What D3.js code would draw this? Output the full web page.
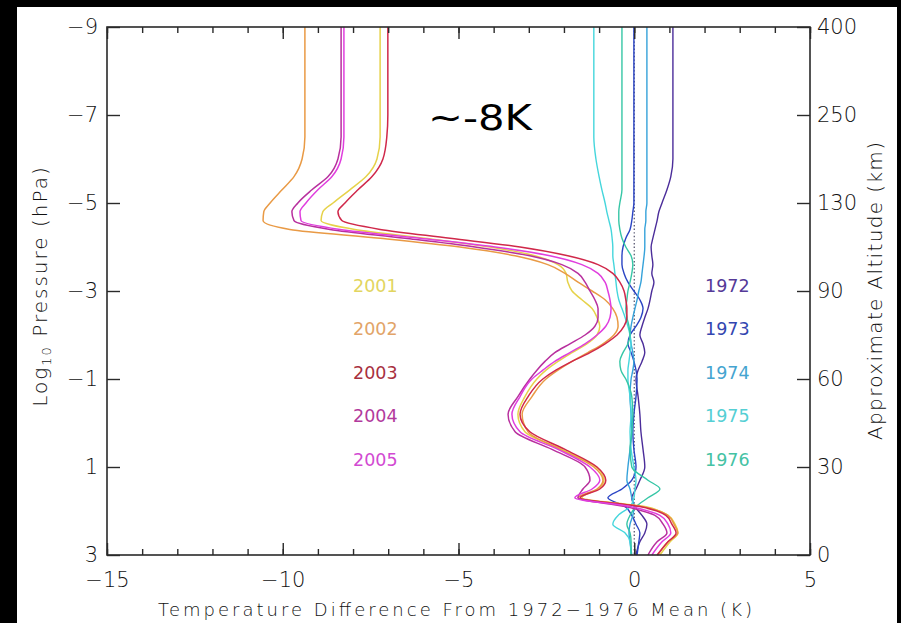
<!DOCTYPE html>
<html>
<head>
<meta charset="utf-8">
<script src="https://cdn.jsdelivr.net/npm/d3@7"></script>
<style>
  html, body { margin: 0; padding: 0; background: #000; }
  svg { display: block; }
  text { font-family: "DejaVu Sans", sans-serif; }
</style>
</head>
<body>
<svg id="chart" width="901" height="623"></svg>
<script>
// Log10 pressure (hPa) levels shared by every profile, top of atmosphere first
const pressureLevels = [-9, -8, -7, -6.5, -6, -5.6, -5.3, -5.0, -4.8, -4.6, -4.4, -4.2, -4.0, -3.8,
  -3.6, -3.4, -3.2, -3.0, -2.8, -2.6, -2.4, -2.2, -2.0, -1.8, -1.6, -1.4, -1.2, -1.0,
  -0.6, -0.2, 0.2, 0.6, 1.0, 1.3, 1.5, 1.7, 1.9, 2.1, 2.3, 2.5, 2.7, 3.0];

// Temperature difference (K) from the 1972-1976 mean, one array per year
const t1972 = [1.10,1.10,1.10,1.10,1.10,1.04,0.93,0.79,0.70,0.65,0.59,0.53,0.48,0.50,0.53,0.50,0.56,0.50,0.45,0.39,0.30,0.22,0.16,0.25,0.30,0.22,0.11,0.05,0.11,0.16,0.19,0.25,0.30,0.16,0.05,-0.07,0.02,0.22,0.36,0.30,0.16,0.05];
const t1973 = [-0.01,-0.01,-0.01,-0.01,-0.01,-0.01,-0.01,-0.01,-0.04,-0.07,-0.12,-0.24,-0.32,-0.35,-0.35,-0.29,-0.18,-0.01,0.16,0.25,0.19,0.05,-0.12,-0.18,-0.09,-0.01,0.05,0.08,0.05,-0.01,-0.04,-0.01,0.05,-0.07,-0.35,-0.75,-0.26,-0.07,0.05,0.16,0.13,0.08];
const t1974 = [0.36,0.36,0.36,0.36,0.36,0.36,0.36,0.36,0.33,0.33,0.30,0.30,0.30,0.28,0.25,0.22,0.19,0.13,0.08,0.02,-0.04,-0.09,-0.12,-0.09,-0.04,-0.01,-0.04,-0.09,-0.12,-0.09,-0.07,-0.12,-0.18,-0.21,-0.12,-0.07,-0.01,-0.04,-0.12,-0.15,-0.12,-0.07];
const t1975 = [-1.15,-1.15,-1.15,-1.15,-1.09,-1.00,-0.92,-0.83,-0.78,-0.72,-0.66,-0.63,-0.61,-0.61,-0.58,-0.55,-0.52,-0.49,-0.44,-0.35,-0.26,-0.18,-0.12,-0.09,-0.12,-0.15,-0.18,-0.18,-0.12,-0.09,-0.12,-0.09,-0.01,0.05,0.02,-0.01,-0.12,-0.46,-0.61,-0.26,-0.12,-0.09];
const t1976 = [-0.35,-0.35,-0.35,-0.35,-0.35,-0.35,-0.35,-0.41,-0.44,-0.44,-0.41,-0.35,-0.24,-0.09,-0.04,-0.07,-0.12,-0.18,-0.21,-0.24,-0.21,-0.15,-0.12,-0.18,-0.32,-0.41,-0.38,-0.24,-0.07,-0.04,-0.07,-0.12,-0.07,0.39,0.73,0.39,0.05,-0.12,-0.21,-0.12,-0.09,-0.09];
const t2001 = [-7.23,-7.23,-7.23,-7.23,-7.32,-7.63,-8.09,-8.57,-8.86,-8.91,-7.95,-5.95,-4.11,-2.83,-2.17,-1.94,-1.89,-1.77,-1.49,-1.20,-1.06,-0.98,-1.06,-1.35,-1.77,-2.17,-2.51,-2.77,-3.11,-3.31,-3.11,-2.06,-1.09,-0.86,-1.03,-1.49,0.30,0.96,1.16,1.24,1.02,0.73];
const t2002 = [-9.37,-9.37,-9.37,-9.37,-9.45,-9.68,-10.02,-10.36,-10.54,-10.56,-9.80,-7.23,-4.96,-3.39,-2.46,-1.97,-1.60,-1.20,-0.83,-0.61,-0.49,-0.46,-0.58,-0.89,-1.32,-1.77,-2.17,-2.51,-2.91,-3.19,-3.02,-2.11,-1.15,-0.89,-1.06,-1.60,0.22,0.96,1.13,1.24,0.96,0.67];
const t2003 = [-7.01,-7.01,-7.01,-7.04,-7.15,-7.46,-7.86,-8.23,-8.43,-8.32,-7.23,-5.24,-3.25,-1.89,-1.03,-0.61,-0.41,-0.29,-0.24,-0.21,-0.21,-0.29,-0.49,-0.83,-1.26,-1.77,-2.23,-2.60,-3.02,-3.25,-2.97,-1.97,-1.06,-0.81,-0.98,-1.54,0.16,0.90,1.07,1.19,0.96,0.65];
const t2004 = [-8.34,-8.34,-8.34,-8.34,-8.43,-8.71,-9.17,-9.57,-9.74,-9.68,-8.66,-6.52,-4.53,-2.97,-2.06,-1.60,-1.40,-1.26,-1.12,-1.03,-1.03,-1.12,-1.40,-1.83,-2.26,-2.54,-2.77,-2.97,-3.31,-3.59,-3.39,-2.34,-1.40,-1.26,-1.46,-1.60,-0.26,0.59,0.82,0.93,0.65,0.39];
const t2005 = [-8.26,-8.26,-8.26,-8.26,-8.34,-8.60,-9.00,-9.34,-9.51,-9.48,-8.37,-6.10,-3.96,-2.40,-1.49,-1.03,-0.83,-0.75,-0.69,-0.66,-0.69,-0.81,-1.06,-1.40,-1.83,-2.26,-2.60,-2.91,-3.25,-3.48,-3.25,-2.17,-1.26,-0.98,-1.20,-1.69,-0.12,0.73,0.96,1.04,0.79,0.50];

const baseYears = ["1972", "1973", "1974", "1975", "1976"];
const recentYears = ["2001", "2002", "2003", "2004", "2005"];
const baseColors = ["#4b2d9a", "#2a44c4", "#35a2da", "#45d6dc", "#36c6a6"];
const recentColors = ["#e6d24a", "#e99a45", "#d0284a", "#b8309e", "#e03ede"];
const baseLabelColors = ["#553a98", "#3346b0", "#45a4d0", "#55cfd4", "#45c2a4"];
const recentLabelColors = ["#e2d560", "#e2a468", "#a8303e", "#b23a9c", "#d24ad2"];

// Axis ticks and labels
const tempMajorTicks = [-15, -10, -5, 0, 5];
const tempMinorTicks = d3.range(-15, 6, 1);
const pressureTicks = [-9, -7, -5, -3, -1, 1, 3];
const altitudeLabels = ["400", "250", "130", "90", "60", "30", "0"];

const series = [
  { year: "1972", values: t1972 }, { year: "1973", values: t1973 },
  { year: "1974", values: t1974 }, { year: "1975", values: t1975 },
  { year: "1976", values: t1976 }, { year: "2001", values: t2001 },
  { year: "2002", values: t2002 }, { year: "2003", values: t2003 },
  { year: "2004", values: t2004 }, { year: "2005", values: t2005 }
];

const svg = d3.select("#chart");
const plot = { left: 107, right: 810, top: 27, bottom: 555 };
const ink = "#2a2a2a";
const textInk = "#111";

// White page inside the black surround
svg.append("rect").attr("x", 17).attr("y", 7).attr("width", 880).attr("height", 616).attr("fill", "#fff");

const x = d3.scaleLinear().domain([-15, 5]).range([plot.left, plot.right]);
const y = d3.scaleLinear().domain([-9, 3]).range([plot.top, plot.bottom]);

const colorOf = d3.scaleOrdinal()
  .domain(baseYears.concat(recentYears))
  .range(baseColors.concat(recentColors));

// Dotted zero reference
svg.append("line")
  .attr("x1", x(0)).attr("x2", x(0))
  .attr("y1", y(-9)).attr("y2", y(3))
  .attr("stroke", "#4a4a66").attr("stroke-width", 1.2)
  .attr("stroke-dasharray", "1.4 2.2");

const line = d3.line()
  .x(d => x(d[0]))
  .y(d => y(d[1]))
  .curve(d3.curveMonotoneY);

const g = svg.append("g");
g.selectAll("path.profile")
  .data(series)
  .join("path")
  .attr("class", "profile")
  .attr("fill", "none")
  .attr("stroke", d => colorOf(d.year))
  .attr("stroke-width", d => +d.year > 2000 ? 1.5 : 1.4)
  .attr("stroke-linejoin", "round")
  .attr("d", d => line(d.values.map((v, i) => [v, pressureLevels[i]])));

// Axes
function styleAxis(sel) {
  sel.select(".domain").remove();
  sel.selectAll(".tick line").attr("stroke", ink).attr("stroke-width", 1.4);
  sel.selectAll(".tick text").attr("fill", textInk).style("font-size", "21px")
    .style("font-weight", "300")
    .style("font-family", "'DejaVu Sans', sans-serif");
}

svg.append("g").attr("transform", `translate(0,${plot.bottom})`)
  .call(d3.axisBottom(x).tickValues(tempMinorTicks).tickSize(-6).tickFormat(""))
  .call(styleAxis);
svg.append("g").attr("transform", `translate(0,${plot.bottom})`)
  .call(d3.axisBottom(x).tickValues(tempMajorTicks).tickSize(-12).tickPadding(17).tickFormat(d3.format("d")))
  .call(styleAxis);
svg.append("g").attr("transform", `translate(0,${plot.top})`)
  .call(d3.axisTop(x).tickValues(tempMinorTicks).tickSize(-6).tickFormat(""))
  .call(styleAxis);
svg.append("g").attr("transform", `translate(0,${plot.top})`)
  .call(d3.axisTop(x).tickValues(tempMajorTicks).tickSize(-12).tickFormat(""))
  .call(styleAxis);
svg.append("g").attr("transform", `translate(${plot.left},0)`)
  .call(d3.axisLeft(y).tickValues(pressureTicks).tickSize(-13).tickPadding(9).tickFormat(d3.format("d")))
  .call(styleAxis);
svg.append("g").attr("transform", `translate(${plot.right},0)`)
  .call(d3.axisRight(y).tickValues(pressureTicks).tickSize(-13).tickPadding(7)
    .tickFormat((d, i) => altitudeLabels[i]))
  .call(styleAxis);

// Plot frame
svg.append("rect")
  .attr("x", plot.left).attr("y", plot.top)
  .attr("width", plot.right - plot.left).attr("height", plot.bottom - plot.top)
  .attr("fill", "none").attr("stroke", ink).attr("stroke-width", 1.6);

// Axis titles
svg.append("text")
  .attr("x", 455).attr("y", 616)
  .attr("text-anchor", "middle")
  .attr("textLength", 594).attr("lengthAdjust", "spacing")
  .style("font-size", "18px").style("font-weight", "300").attr("fill", textInk)
  .text("Temperature Difference From 1972\u22121976 Mean (K)");

const leftTitle = svg.append("text")
  .attr("transform", "translate(47,286) rotate(-90)")
  .attr("text-anchor", "middle")
  .style("font-size", "20px").style("font-weight", "300")
  .style("letter-spacing", "2px").attr("fill", textInk);
leftTitle.append("tspan").text("Log");
leftTitle.append("tspan").style("font-size", "13px").attr("dy", 4).text("10");
leftTitle.append("tspan").attr("dy", -4).text(" Pressure (hPa)");

svg.append("text")
  .attr("transform", "translate(882,291) rotate(-90)")
  .attr("text-anchor", "middle")
  .attr("textLength", 298).attr("lengthAdjust", "spacing")
  .style("font-size", "20px").style("font-weight", "300").attr("fill", textInk)
  .text("Approximate Altitude (km)");

// Year keys
const rowY = [292, 335, 379, 422, 466];
svg.selectAll("text.recent")
  .data(recentYears)
  .join("text")
  .attr("class", "recent")
  .attr("x", 353).attr("y", (d, i) => rowY[i])
  .attr("fill", (d, i) => recentLabelColors[i])
  .style("font-size", "17.5px")
  .text(d => d);
svg.selectAll("text.base")
  .data(baseYears)
  .join("text")
  .attr("class", "base")
  .attr("x", 705).attr("y", (d, i) => rowY[i])
  .attr("fill", (d, i) => baseLabelColors[i])
  .style("font-size", "17.5px")
  .text(d => d);

// Annotation of the upper-atmosphere cooling
svg.append("text")
  .attr("x", 428).attr("y", 130)
  .attr("textLength", 104).attr("lengthAdjust", "spacingAndGlyphs")
  .style("font-size", "35px").attr("fill", "#000")
  .text("~-8K");
</script>
</body>
</html>
